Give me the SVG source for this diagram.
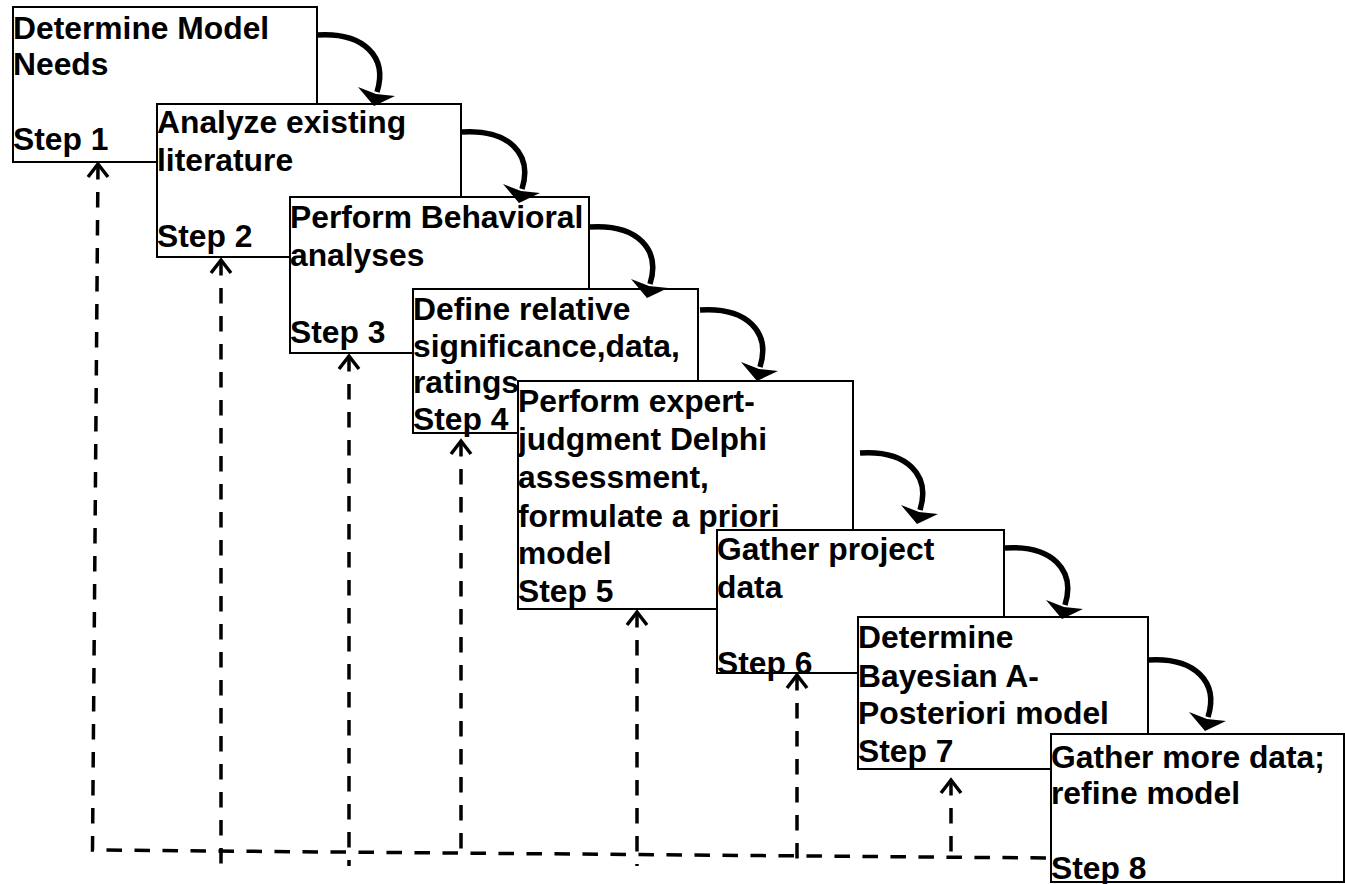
<svg xmlns="http://www.w3.org/2000/svg" xmlns:xlink="http://www.w3.org/1999/xlink" width="1345" height="884" viewBox="0 0 1345 884">
<style>
.box{fill:#fff;stroke:#000;stroke-width:2}
.t{font-family:"Liberation Sans",Arial,sans-serif;font-weight:bold;font-size:31.8px;fill:#000}
.curve{fill:none;stroke:#000;stroke-width:5.5}
.dash{fill:none;stroke:#000;stroke-width:3.5;stroke-dasharray:15.5 12.5}
.chev{fill:none;stroke:#000;stroke-width:3.5}
</style>
<defs>
<g id="carrow">
<path class="curve" d="M0,0 C47,-3 71,22 60,57"/>
<polygon points="41,52 59,59 78,61 57,71" fill="#000"/>
</g>
<polyline id="chev" class="chev" points="-10,13 0,0 10,13"/>
</defs>
<rect width="1345" height="884" fill="#fff"/>
<g id="step1">
<rect class="box" x="13" y="7" width="304" height="155"/>
<text class="t"><tspan x="13" y="39">Determine Model</tspan><tspan x="13" y="75">Needs</tspan><tspan x="13" y="150">Step 1</tspan></text>
</g>
<g id="step2">
<rect class="box" x="157" y="104" width="304" height="153"/>
<text class="t"><tspan x="157" y="133">Analyze existing</tspan><tspan x="157" y="170.5">literature</tspan><tspan x="157" y="247">Step 2</tspan></text>
</g>
<g id="step3">
<rect class="box" x="290" y="197" width="299" height="156"/>
<text class="t"><tspan x="290" y="228">Perform Behavioral</tspan><tspan x="290" y="266">analyses</tspan><tspan x="290" y="342.5">Step 3</tspan></text>
</g>
<g id="step4">
<rect class="box" x="413" y="289" width="285" height="144"/>
<text class="t"><tspan x="413" y="320">Define relative</tspan><tspan x="413" y="356.5">significance,data,</tspan><tspan x="413" y="393">ratings</tspan><tspan x="413" y="430">Step 4</tspan></text>
</g>
<g id="step5">
<rect class="box" x="518" y="381" width="335" height="228"/>
<text class="t"><tspan x="518" y="411.5">Perform expert-</tspan><tspan x="518" y="450">judgment Delphi</tspan><tspan x="518" y="488">assessment,</tspan><tspan x="518" y="526.5">formulate a priori</tspan><tspan x="518" y="564">model</tspan><tspan x="518" y="601.5">Step 5</tspan></text>
</g>
<g id="step6">
<rect class="box" x="717" y="530" width="287" height="143"/>
<text class="t"><tspan x="717" y="560">Gather project</tspan><tspan x="717" y="598">data</tspan><tspan x="717" y="674">Step 6</tspan></text>
</g>
<g id="step7">
<rect class="box" x="858" y="617" width="290" height="152"/>
<text class="t"><tspan x="858" y="648">Determine</tspan><tspan x="858" y="686.5">Bayesian A-</tspan><tspan x="858" y="724">Posteriori model</tspan><tspan x="858" y="761.5">Step 7</tspan></text>
</g>
<g id="step8">
<rect class="box" x="1051" y="734" width="293" height="148"/>
<text class="t"><tspan x="1051" y="768">Gather more data;</tspan><tspan x="1051" y="803.5">refine model</tspan><tspan x="1051" y="879">Step 8</tspan></text>
</g>
<g id="connectors">
<use xlink:href="#carrow" transform="translate(317,35)"/>
<use xlink:href="#carrow" transform="translate(462,132)"/>
<use xlink:href="#carrow" transform="translate(590,227)"/>
<use xlink:href="#carrow" transform="translate(700,310)"/>
<use xlink:href="#carrow" transform="translate(860,453)"/>
<use xlink:href="#carrow" transform="translate(1005,548)"/>
<use xlink:href="#carrow" transform="translate(1148,660)"/>
<path class="dash" d="M98,164 L92.5,850 L1048,858"/>
<path class="dash" d="M221,260 L221,866"/>
<path class="dash" d="M349,356 L349,866"/>
<path class="dash" d="M461,441 L461,853"/>
<path class="dash" d="M637,612 L637,866"/>
<path class="dash" d="M797,675 L797,866"/>
<path class="dash" d="M951,780 L951,857"/>
<use xlink:href="#chev" transform="translate(98,164)"/>
<use xlink:href="#chev" transform="translate(221,260)"/>
<use xlink:href="#chev" transform="translate(349,356)"/>
<use xlink:href="#chev" transform="translate(461,441)"/>
<use xlink:href="#chev" transform="translate(637,612)"/>
<use xlink:href="#chev" transform="translate(797,675)"/>
<use xlink:href="#chev" transform="translate(951,780)"/>
</g>
</svg>
